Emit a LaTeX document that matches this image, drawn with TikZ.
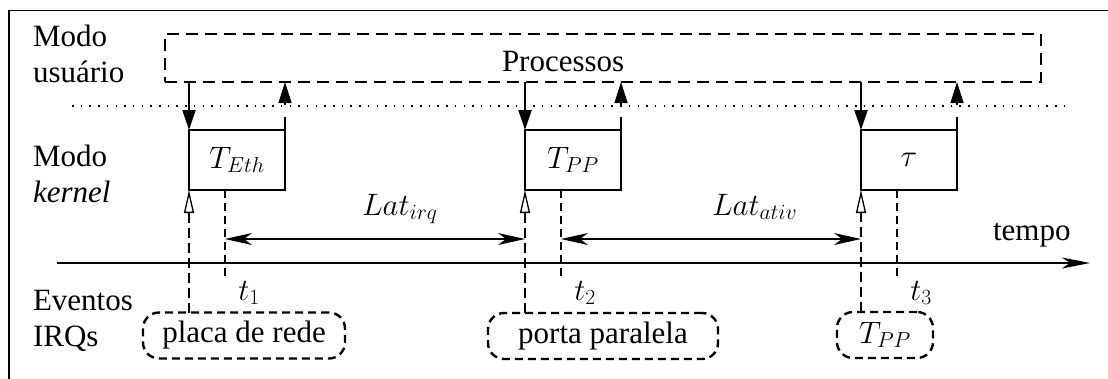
\RequirePackage{fix-cm}
\documentclass[tikz,border=0pt]{standalone}
\usepackage{fontspec}
\setmainfont{Liberation Serif}
\usetikzlibrary{arrows.meta,calc}

\begin{document}
\begin{tikzpicture}[x=1pt,y=-1pt,
  every node/.style={font=\fontsize{31}{36}\selectfont, inner sep=0pt, outer sep=0pt},
  frameline/.style={line width=1.3pt},
  procbox/.style={draw, line width=1.3pt, dash pattern=on 12pt off 7pt,
    minimum width=876pt, minimum height=48pt},
  kbox/.style={draw, line width=1.3pt, minimum width=96pt, minimum height=60pt},
  irqbox/.style={draw, line width=2.4pt, dash pattern=on 8pt off 5pt,
    rounded corners=16pt, minimum height=46pt},
  sepline/.style={line width=1.4pt, dash pattern=on 1.5pt off 7.2pt},
  downarrow/.style={line width=2.3pt, -{Triangle[length=20pt,width=13pt]}},
  uparrow/.style={line width=1.3pt, -{Triangle[length=21pt,width=13pt]}},
  irqarrow/.style={line width=2.4pt, dash pattern=on 10pt off 5pt,
    -{Triangle[open,length=23pt,width=10pt,line width=1.3pt]}},
  tmark/.style={line width=1.3pt, dash pattern=on 8pt off 5pt},
  latarrow/.style={line width=1.3pt,
    {Stealth[length=27pt,width=12pt,inset=8pt]}-{Stealth[length=27pt,width=12pt,inset=8pt]}},
  timeaxis/.style={line width=1.3pt, -{Stealth[length=28pt,width=11pt,inset=8pt]}},
  ]
\useasboundingbox (0,0) rectangle (1108,378);

% outer frame
\draw[frameline] (9,400) -- (9,10.5) -- (1120,10.5);

% row labels
\node[anchor=base west] (lu1) at (33,46) {Modo};
\node[anchor=base west] (lu2) at (33,82) {usuário};
\node[anchor=base west] (lk1) at (33,166) {Modo};
\node[anchor=base west] (lk2) at (33,202) {\textit{kernel}};
\node[anchor=base west] (le1) at (33,310) {Eventos};
\node[anchor=base west] (le2) at (33,346) {IRQs};

% user space
\node[procbox] (proc) at (603,58) {};
\node[anchor=base west] (proclbl) at (502,71) {Processos};
\coordinate (sepL) at (72,106);
\coordinate (sepR) at (1072,106);
\draw[sepline] (sepL) -- (sepR);

% kernel tasks
\node[kbox] (b1) at (237,160) {$T_{Eth}$};
\node[kbox] (b2) at (573,160) {$T_{PP}$};
\node[kbox] (b3) at (909,160) {$\tau$};

% interrupt sources
\node[irqbox, minimum width=202pt] (i1) at (244,335.5) {placa de rede};
\node[irqbox, minimum width=230pt] (i2) at (603,336) {porta paralela};
\node[irqbox, minimum width=96pt] (i3) at (885,335) {$T_{PP}$};

% time axis
\coordinate (ax0) at (57,263);
\coordinate (ax1) at (1090,263);
\draw[timeaxis] (ax0) -- (ax1);
\node[anchor=base west] (tempo) at (993,240) {tempo};

\foreach \k in {1,2,3}{
  % entering / leaving the kernel
  \draw[downarrow] (b\k.north west |- proc.south) -- (b\k.north west);
  \coordinate (u\k) at ($(b\k.north east)+(0,-25)$);
  \draw[frameline] (b\k.north east) -- ($(b\k.north east)+(0,-13)$);
  \draw[uparrow] (u\k) -- (u\k |- proc.south);
  % interrupt request
  \draw[irqarrow] (i\k.north -| b\k.south west) -- (b\k.south west);
  % task completion instant
  \coordinate (d\k) at ($(b\k.south west)+(36,0)$);
  \draw[tmark] (d\k) -- ($(d\k)+(0,87)$);
  \node (t\k) at ($(d\k)+(24,103)$) {$t_{\k}$};
}

% latencies
\coordinate (l1) at ($(d1)+(0,49)$);
\coordinate (l2) at ($(d2)+(0,49)$);
\draw[latarrow] (l1) -- (l1 -| b2.south west);
\draw[latarrow] (l2) -- (l2 -| b3.south west);
\node[anchor=base west] (latirq) at (362,215) {$Lat_{irq}$};
\node[anchor=base west] (latativ) at (712,215) {$Lat_{ativ}$};
\end{tikzpicture}
\end{document}
